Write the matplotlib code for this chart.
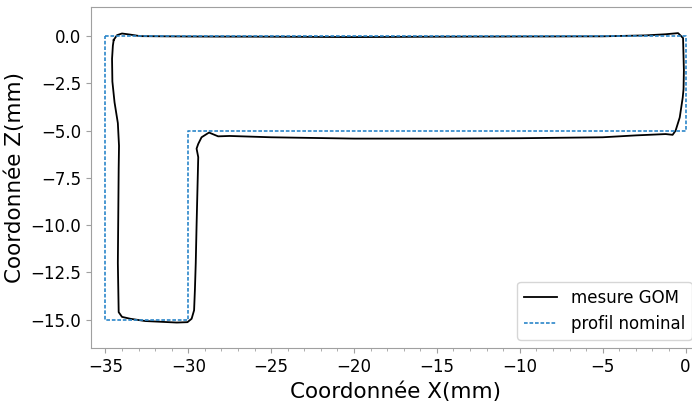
import numpy as np
import matplotlib.pyplot as plt
from matplotlib.ticker import MultipleLocator

# profil nominal (L)
nom_x = [-35, 0, 0, -30, -30, -35, -35]
nom_z = [0, 0, -5, -5, -15, -15, 0]

# mesure GOM (contour fermé)
mes_x = [-34.5, -34.3, -34.0, -33.5, -32.9, -30, -25, -20, -15, -10, -5, -2.4, -1.2,
         -0.45, -0.15, -0.1, -0.12, -0.17, -0.35, -0.6, -0.78, -1.2, -3, -5, -10, -15,
         -20, -25, -27.5, -28.2, -28.75, -29.2, -29.4, -29.5, -29.4, -29.45, -29.5,
         -29.55, -29.6, -29.65, -29.8, -30.05, -30.7, -32.6, -33.5, -34.0, -34.2,
         -34.25, -34.22, -34.2, -34.18, -34.25, -34.45, -34.58, -34.6, -34.55, -34.5]
mes_z = [-0.2, 0.05, 0.14, 0.08, 0.0, -0.02, -0.03, -0.05, -0.03, -0.02, -0.01, 0.04,
         0.1, 0.16, -0.1, -1.8, -2.8, -3.25, -4.3, -5.0, -5.22, -5.18, -5.25, -5.35,
         -5.4, -5.42, -5.42, -5.35, -5.28, -5.3, -5.1, -5.35, -5.7, -5.95, -6.4, -8.2,
         -10, -12, -13.4, -14.5, -14.95, -15.13, -15.15, -15.07, -14.95, -14.85,
         -14.6, -12, -9, -7, -5.8, -4.6, -3.5, -2.4, -1.2, -0.5, -0.2]

fig = plt.figure(figsize=(6.92, 4.01), dpi=100)
ax = fig.add_axes([0.1315, 0.132, 0.88, 0.85])

ax.plot(mes_x, mes_z, color='black', lw=1.3, label='mesure GOM')
ax.plot(nom_x, nom_z, color='#2b86c9', lw=1.2, linestyle=(0, (2.2, 1.1)),
        label='profil nominal')

ax.set_xlim(-35.87, 0.87)
ax.set_ylim(-16.5, 1.53)
ax.xaxis.set_major_locator(MultipleLocator(5))
ax.xaxis.set_minor_locator(MultipleLocator(1))
ax.yaxis.set_major_locator(MultipleLocator(2.5))

for s in ax.spines.values():
    s.set_color('#a0a0a0')
ax.tick_params(axis='both', which='both', color='#a0a0a0', labelsize=12)

ax.set_xlabel('Coordonnée X(mm)', fontsize=15.5)
ax.set_ylabel('Coordonnée Z(mm)', fontsize=15.5)
ax.legend(loc='lower right', fontsize=12)

fig.savefig('out.png', dpi=100)
